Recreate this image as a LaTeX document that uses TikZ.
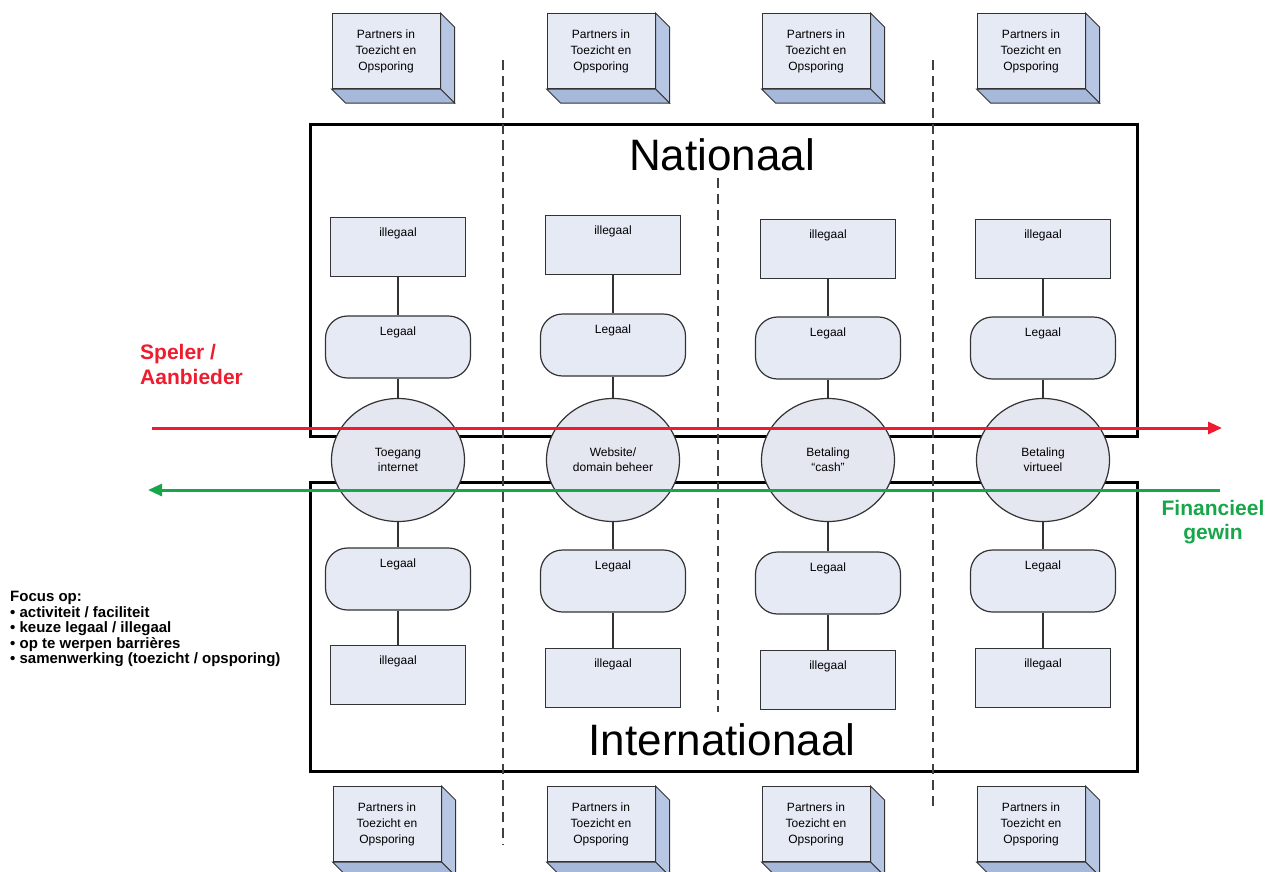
\documentclass[tikz,border=0pt]{standalone}
\usepackage{fontspec}
\setmainfont{Liberation Sans}
\usetikzlibrary{positioning,shapes.geometric,arrows.meta}

\definecolor{boxfill}{HTML}{E6EAF5}
\definecolor{kernfill}{HTML}{E4E7F0}
\definecolor{sidefill}{HTML}{B7C6E2}
\definecolor{basefill}{HTML}{A6B9DA}
\definecolor{speler}{HTML}{EE1C2E}
\definecolor{gewin}{HTML}{17A64A}

\tikzset{
	illegaal/.style={draw=black!80, line width=1.2pt, fill=boxfill, minimum width=135pt,
		inner ysep=10pt, text height=9pt, text depth=30pt, font=\fontsize{12}{15}\selectfont},
	legaal/.style={illegaal, rounded corners=22pt, minimum width=145pt, text depth=33pt},
	kern/.style={ellipse, draw=black!80, line width=1.2pt, fill=kernfill, minimum width=133pt,
		minimum height=123pt, inner sep=0pt, align=center, font=\fontsize{12}{15}\selectfont},
	partner/.style={draw=black!80, line width=1pt, fill=boxfill, minimum width=108pt,
		minimum height=75pt, inner sep=0pt, align=center, font=\fontsize{12}{16}\selectfont},
	kader/.style={draw, line width=3pt},
	scheiding/.style={dash pattern=on 10pt off 6pt, line width=1.5pt, black!75},
	titel/.style={font=\fontsize{44}{48}\selectfont},
}

% zijkanten van een partnerblok
\newcommand{\diepte}[1]{%
	\filldraw[fill=sidefill, draw=black!80, line width=1pt] (#1.north east) -- ++(14,14)
		-- ([shift={(14,14)}]#1.south east) -- (#1.south east) -- cycle;
	\filldraw[fill=basefill, draw=black!80, line width=1pt] (#1.south west) -- (#1.south east)
		-- ++(14,14) -- ([shift={(14,14)}]#1.south west) -- cycle;}

\begin{document}
\begin{tikzpicture}[x=1pt, y=-1pt, on grid, >={Triangle[length=14pt,width=12pt]}]
	\useasboundingbox (0,0) rectangle (1277,871);

	% kaders
	\draw[kader] (310,124) rectangle (1137,436);
	\draw[kader] (310,482) rectangle (1137,771);
	\node[titel](nat) at (722,155) {Nationaal};
	\node[titel](int) at (722,740) {Internationaal};

	% scheidingslijnen
	\draw[scheiding] (503,60) -- (503,845);
	\draw[scheiding] (718,178) -- (718,712);
	\draw[scheiding] (933,60) -- (933,810);

	% partners
	\node[partner](p_1) at (386,51) {Partners in\\Toezicht en\\Opsporing};
	\node[partner](p_2) at (601,51) {Partners in\\Toezicht en\\Opsporing};
	\node[partner](p_3) at (816,51) {Partners in\\Toezicht en\\Opsporing};
	\node[partner](p_4) at (1031,51) {Partners in\\Toezicht en\\Opsporing};
	\node[partner](pb_1) at (387,824) {Partners in\\Toezicht en\\Opsporing};
	\node[partner](pb_2) at (601,824) {Partners in\\Toezicht en\\Opsporing};
	\node[partner](pb_3) at (816,824) {Partners in\\Toezicht en\\Opsporing};
	\node[partner](pb_4) at (1031,824) {Partners in\\Toezicht en\\Opsporing};
	\diepte{p_1} \diepte{p_2} \diepte{p_3} \diepte{p_4}
	\diepte{pb_1} \diepte{pb_2} \diepte{pb_3} \diepte{pb_4}

	% kolom 1
	\node[illegaal](il_1) at (398,247) {illegaal};
	\node[legaal](le_1)[below=100pt of il_1] {Legaal};
	\node[kern](c_1)[below=113pt of le_1] {Toegang\\internet};
	\node[legaal](lb_1)[below=119pt of c_1] {Legaal};
	\node[illegaal](ib_1)[below=96pt of lb_1] {illegaal};

	% kolom 2
	\node[illegaal](il_2) at (613,245) {illegaal};
	\node[legaal](le_2)[below=100pt of il_2] {Legaal};
	\node[kern](c_2)[below=115pt of le_2] {Website/\\domain beheer};
	\node[legaal](lb_2)[below=121pt of c_2] {Legaal};
	\node[illegaal](ib_2)[below=97pt of lb_2] {illegaal};

	% kolom 3
	\node[illegaal](il_3) at (828,249) {illegaal};
	\node[legaal](le_3)[below=99pt of il_3] {Legaal};
	\node[kern](c_3)[below=112pt of le_3] {Betaling\\“cash”};
	\node[legaal](lb_3)[below=123pt of c_3] {Legaal};
	\node[illegaal](ib_3)[below=97pt of lb_3] {illegaal};

	% kolom 4
	\node[illegaal](il_4) at (1043,249) {illegaal};
	\node[legaal](le_4)[below=99pt of il_4] {Legaal};
	\node[kern](c_4)[below=112pt of le_4] {Betaling\\virtueel};
	\node[legaal](lb_4)[below=121pt of c_4] {Legaal};
	\node[illegaal](ib_4)[below=97pt of lb_4] {illegaal};

	\path[draw=black!80, line width=1.2pt]
	(il_1) edge (le_1) (le_1) edge (c_1) (c_1) edge (lb_1) (lb_1) edge (ib_1)
	(il_2) edge (le_2) (le_2) edge (c_2) (c_2) edge (lb_2) (lb_2) edge (ib_2)
	(il_3) edge (le_3) (le_3) edge (c_3) (c_3) edge (lb_3) (lb_3) edge (ib_3)
	(il_4) edge (le_4) (le_4) edge (c_4) (c_4) edge (lb_4) (lb_4) edge (ib_4);

	% stromen
	\coordinate (rood_a) at (152,428);
	\coordinate (rood_b) at (1222,428);
	\coordinate (groen_a) at (1220,490);
	\coordinate (groen_b) at (148,490);
	\draw[->, speler, line width=3pt] (rood_a) -- (rood_b);
	\draw[->, gewin, line width=3pt] (groen_a) -- (groen_b);

	\node[anchor=north west, inner sep=0pt, align=left, text=speler,
		font=\bfseries\fontsize{21}{25}\selectfont](spe) at (140,344) {Speler /\\Aanbieder};
	\node[anchor=north, inner sep=0pt, align=center, text=gewin,
		font=\bfseries\fontsize{21}{24}\selectfont](fin) at (1213,500) {Financieel\\gewin};
	\node[anchor=north west, inner sep=0pt, align=left,
		font=\bfseries\fontsize{15}{15.5}\selectfont](focus) at (10,591)
		{Focus op:\\• activiteit / faciliteit\\• keuze legaal / illegaal\\• op te werpen barrières\\• samenwerking (toezicht / opsporing)};
\end{tikzpicture}
\end{document}
